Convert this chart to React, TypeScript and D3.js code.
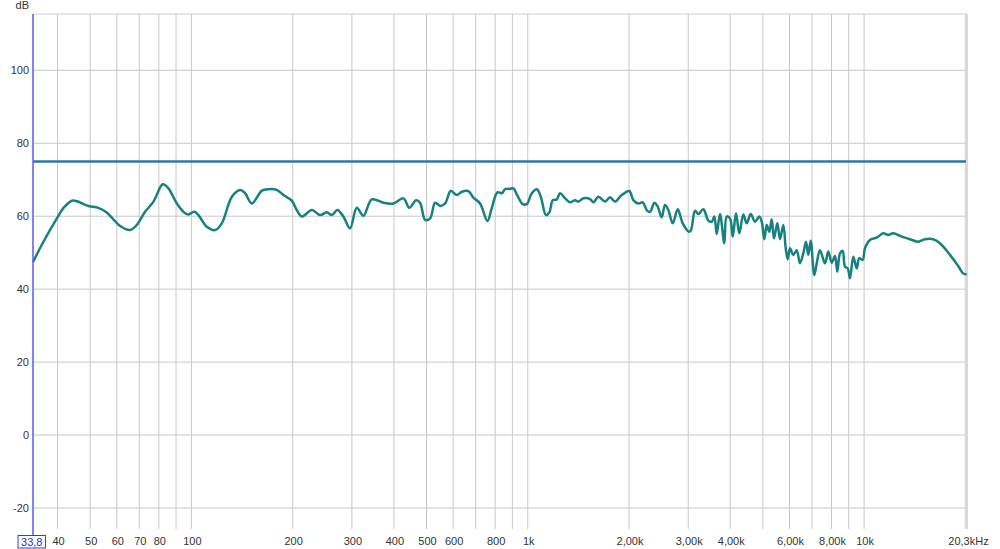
import React from "react";
import * as d3 from "d3";

const freqs: number[] = [
  33.8, 36.3, 39.8, 41.6, 44.1, 45.7, 49.4, 52.9, 56.0, 61.4, 65.7, 68.8, 72.8, 77.1, 82.2, 85.4, 90.5, 95.8, 98.0,
  102, 104.9, 111.1, 117.6, 123.1, 131.9, 139.6, 144.4, 151.2, 162.0, 169.4, 179.4, 187.7, 198.8, 205.7, 212.9,
  228.0, 241.3, 252.6, 261.5, 271.6, 283.0, 296.3, 310.2, 324.5, 343.8, 372.2, 398.5, 426.8, 444.6, 465.6, 478.5,
  495.2, 512.5, 530.3, 548.8, 567.9, 590.4, 615.2, 636.6, 666.0, 689.1, 721.6, 758.6, 781.6, 812.3, 837.2, 856.3,
  886.2, 906.3, 927.6, 966.3, 993.1, 1028, 1064, 1093, 1133, 1159, 1187, 1220, 1247, 1291, 1336, 1382, 1414, 1463,
  1532, 1567, 1622, 1698, 1757, 1818, 1903, 2004, 2060, 2132, 2198, 2258, 2310, 2379, 2435, 2502, 2559, 2618, 2698,
  2792, 2889, 3017, 3058, 3143, 3215, 3327, 3443, 3524, 3587, 3646, 3729, 3841, 3905, 3994, 4068, 4161, 4256, 4374,
  4477, 4602, 4739, 4881, 4961, 5050, 5134, 5226, 5312, 5397, 5521, 5623, 5752, 5848, 5928, 6022, 6159, 6304, 6448,
  6596, 6719, 6825, 6939, 7112, 7259, 7394, 7652, 7827, 8012, 8195, 8324, 8480, 8638, 8775, 8939, 9081, 9288, 9506,
  9676, 9904, 10060, 10410, 10900, 11400, 11800, 12210, 12940, 13690, 14490, 15170, 16060, 16810, 18010, 19060,
  19720, 20180,
];

const levels: number[] = [
  47.4, 53.0, 59.4, 62.2, 64.25, 64.1, 62.8, 62.3, 61.0, 57.3, 56.2, 57.6, 61.2, 64.0, 68.75, 67.65, 63.5, 60.8, 60.5,
  61.2, 60.3, 57.1, 56.2, 58.05, 65.35, 67.2, 66.3, 63.5, 67.0, 67.4, 67.2, 65.8, 64.25, 61.7, 59.9,
  61.7, 60.3, 61.1, 60.3, 61.7, 59.9, 56.7, 62.3, 60.1, 64.6, 63.7, 63.5, 64.9, 62.3, 64.4, 63.7,
  59.0, 59.4, 63.7, 62.8, 63.5, 67.0, 65.8, 66.7, 66.9, 65.1, 63.5, 58.7, 62.2, 66.55, 66.3, 67.4,
  67.5, 67.65, 66.0, 63.3, 63.3, 66.3, 67.4, 65.35, 60.3, 61.0, 64.4, 64.6, 66.3, 64.9, 63.8, 64.4, 64.0, 64.9,
  64.7, 63.8, 65.35, 64.0, 65.2, 64.0, 65.8, 66.9, 64.4, 63.5, 63.8, 61.7, 61.2, 63.7, 62.6, 59.7, 63.1, 61.7, 58.05,
  61.9, 58.05, 55.75, 56.2, 61.5, 60.6, 61.9, 58.8, 58.5, 59.9, 55.1, 60.6, 52.6, 59.9, 59.4, 54.4, 60.8, 55.3, 60.5,
  58.05, 60.6, 58.5, 59.9, 58.5, 53.7, 57.6, 55.75, 59.15, 53.9, 58.05, 53.7, 57.6, 51.2, 48.2, 51.2, 49.4, 50.7, 47.1,
  49.8, 53.0, 49.4, 53.3, 43.9, 48.0, 50.7, 47.1, 50.3, 47.25, 49.1, 44.8, 49.8, 50.5, 46.15, 45.7, 43.0, 48.9, 45.7,
  48.5, 48.0, 51.2, 53.5, 54.1, 55.3, 54.85, 55.3, 54.4, 53.7, 53.0, 53.7, 53.7, 52.6, 49.4, 46.3,
  44.3, 44.1,
];

const referenceLevel = 75;

const yTicks: number[] = [100, 80, 60, 40, 20, 0, -20];
const xTickValues: number[] = [40, 50, 60, 70, 80, 100, 200, 300, 400, 500, 600, 800, 1000, 2000, 3000, 4000, 6000, 8000, 10000, 20300];
const xTickLabels: string[] = ["40", "50", "60", "70", "80", "100", "200", "300", "400", "500", "600", "800", "1k", "2,00k", "3,00k", "4,00k", "6,00k", "8,00k", "10k", "20,3kHz"];
const xGridValues: number[] = [
  40, 50, 60, 70, 80, 90, 100, 200, 300, 400, 500, 600, 700, 800, 900, 1000,
  2000, 3000, 4000, 5000, 6000, 7000, 8000, 9000, 10000, 20000,
];
const xStartLabel = "33,8";
const yUnit = "dB";

const W = 1000;
const H = 549;
const left = 33;
const right = 967.5;
const top = 14;
const bottom = 529;

export default function App() {
  const x = d3.scaleLog().domain([33.8, 20300]).range([left, right]);
  const y = d3.scaleLinear().domain([-25.76, 115.44]).range([bottom, top]);
  const data = freqs.map((f, i) => [f, levels[i]] as [number, number]);
  const line = d3
    .line<[number, number]>()
    .x((d) => x(d[0]))
    .y((d) => y(d[1]))
    .curve(d3.curveCatmullRom.alpha(0.5));
  const font = "'Liberation Sans', Arial, sans-serif";

  return (
    <svg
      width={W}
      height={H}
      style={{ position: "absolute", left: 0, top: 0, background: "#fff" }}
      fontFamily={font}
    >
      <rect x={0} y={0} width={W} height={H} fill="#ffffff" />
      {/* vertical grid */}
      {xGridValues.map((f) => (
        <line key={"vx" + f} x1={x(f)} x2={x(f)} y1={top} y2={bottom} stroke="#c8c8c8" strokeWidth={1} />
      ))}
      {/* horizontal grid */}
      {yTicks.map((t) => (
        <line key={"hy" + t} x1={left} x2={966} y1={y(t)} y2={y(t)} stroke="#c8c8c8" strokeWidth={1} />
      ))}
      <line x1={left} x2={967} y1={top} y2={top} stroke="#cfcfcf" strokeWidth={1.2} />
      <line x1={966.5} x2={966.5} y1={top} y2={bottom} stroke="#d8d8d8" strokeWidth={3} />
      {/* reference line */}
      <line x1={left} x2={966} y1={y(referenceLevel)} y2={y(referenceLevel)} stroke="#2a7aa8" strokeWidth={2.6} />
      {/* curve */}
      <path d={line(data) || ""} fill="none" stroke="#17817f" strokeWidth={2.5} strokeLinejoin="round" />
      {/* left axis */}
      <line x1={left} x2={left} y1={top} y2={536} stroke="#6464f0" strokeWidth={1.6} />
      {/* y labels */}
      {yTicks.map((t) => (
        <text key={"yl" + t} x={29} y={y(t)} dy="0.35em" textAnchor="end" fontSize={11} fill="#333">
          {t}
        </text>
      ))}
      <text x={29} y={9} textAnchor="end" fontSize={11} fill="#333">
        {yUnit}
      </text>
      {/* x labels */}
      {xTickValues.map((f, i) => (
        <text key={"xl" + f} x={x(f) + (i === xTickValues.length - 1 ? 1 : 1)} y={545} textAnchor="middle" fontSize={11} fill="#333">
          {xTickLabels[i]}
        </text>
      ))}
      <rect x={18} y={535.5} width={27.5} height={12.5} fill="#fff" stroke="#3a3ae0" strokeWidth={1} />
      <text x={31.8} y={545.5} textAnchor="middle" fontSize={11} fill="#2b2bd0">
        {xStartLabel}
      </text>
    </svg>
  );
}
